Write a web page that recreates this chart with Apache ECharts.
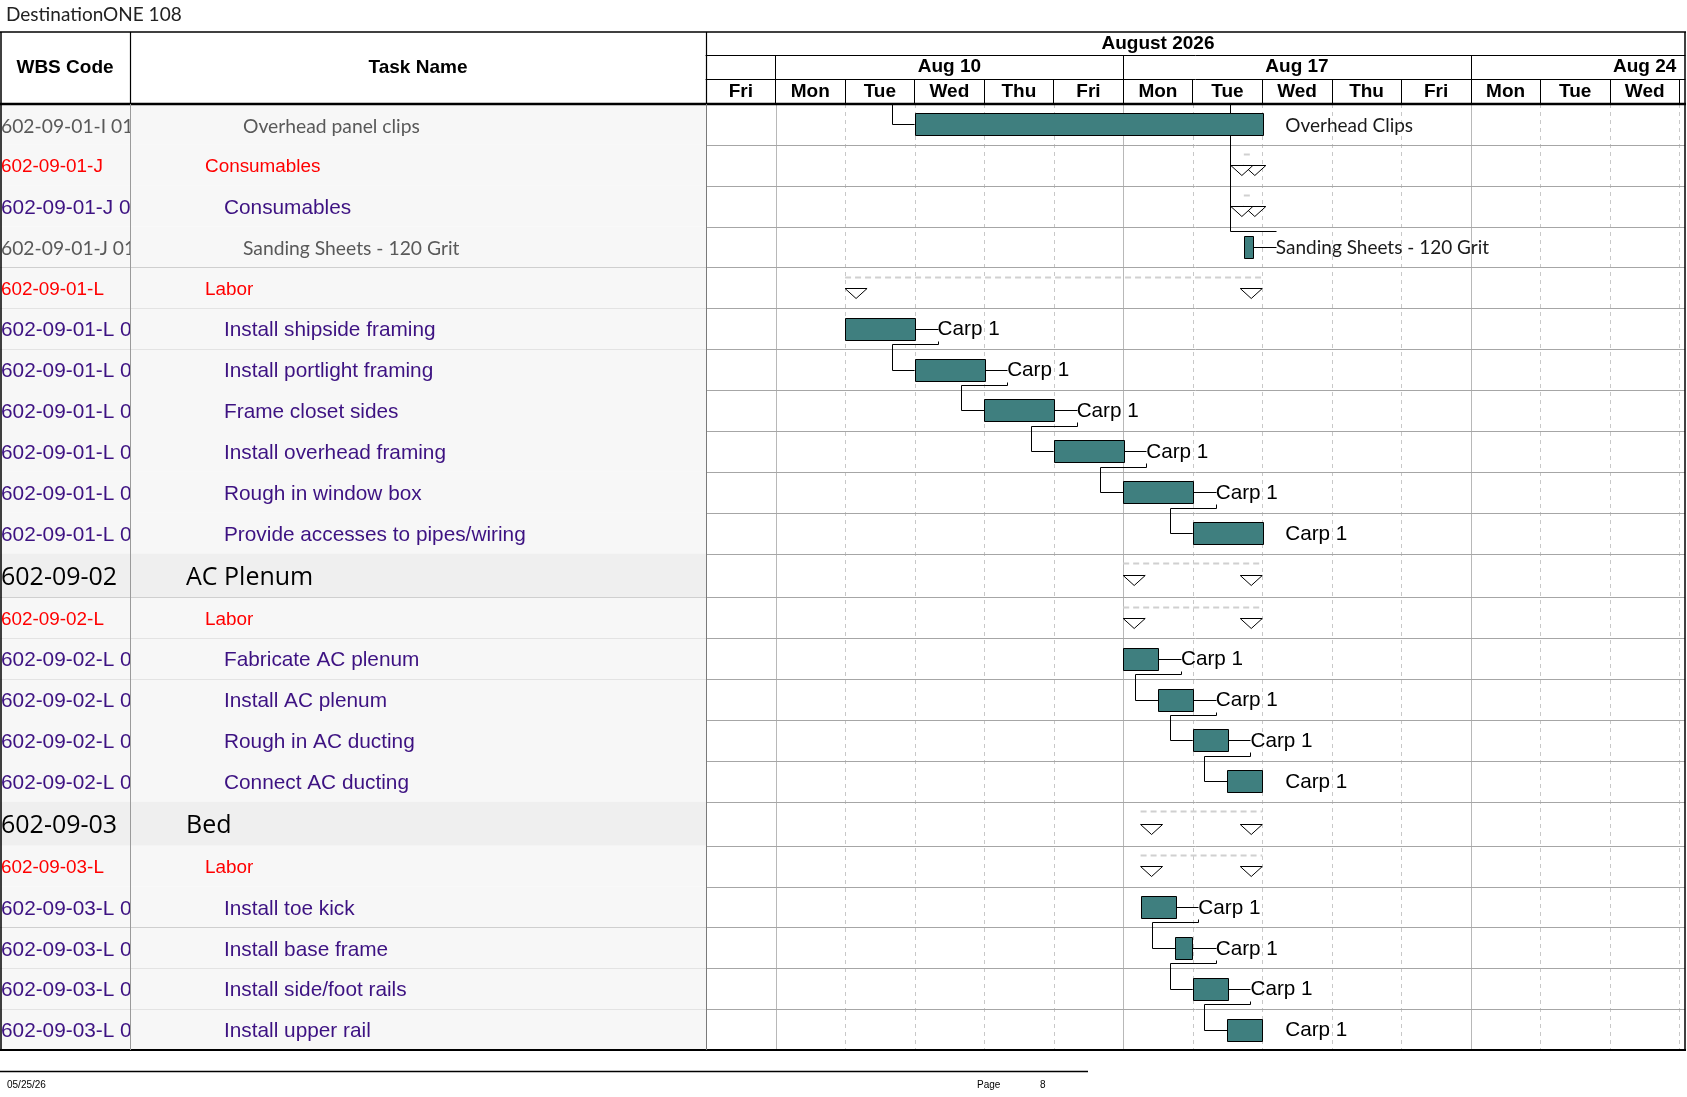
<!DOCTYPE html>
<html>
<head>
<meta charset="utf-8">
<title>DestinationONE 108</title>
<script src="https://cdn.jsdelivr.net/npm/echarts@6/dist/echarts.min.js"></script>
<style>
  html, body { margin: 0; padding: 0; background: #fff; }
  #main { width: 1687px; height: 1097px; }
</style>
</head>
<body>
<div id="main"></div>
<script>
// ---- timeline scale (working days, Fri Aug 7 = 0, weekends skipped) ----
var dayLabels = ['Fri', 'Mon', 'Tue', 'Wed', 'Thu', 'Fri', 'Mon', 'Tue', 'Wed', 'Thu', 'Fri', 'Mon', 'Tue', 'Wed'];
var weekLabels = ['Aug 10', 'Aug 17', 'Aug 24'];
var weekStarts = [1, 6, 11];
var monthLabel = 'August 2026';
var monthSpan = [-4, 17];   // Aug 3 .. Aug 31 in working days

// ---- rows ----
var wbsCodes = [
  '602-09-01-I 01-01', '602-09-01-J', '602-09-01-J 01', '602-09-01-J 01-01', '602-09-01-L',
  '602-09-01-L 01', '602-09-01-L 02', '602-09-01-L 03', '602-09-01-L 04', '602-09-01-L 05', '602-09-01-L 06',
  '602-09-02', '602-09-02-L', '602-09-02-L 01', '602-09-02-L 02', '602-09-02-L 03', '602-09-02-L 04',
  '602-09-03', '602-09-03-L', '602-09-03-L 01', '602-09-03-L 02', '602-09-03-L 03', '602-09-03-L 04'
];
var taskNames = [
  'Overhead panel clips', 'Consumables', 'Consumables', 'Sanding Sheets - 120 Grit', 'Labor',
  'Install shipside framing', 'Install portlight framing', 'Frame closet sides', 'Install overhead framing',
  'Rough in window box', 'Provide accesses to pipes/wiring',
  'AC Plenum', 'Labor', 'Fabricate AC plenum', 'Install AC plenum', 'Rough in AC ducting', 'Connect AC ducting',
  'Bed', 'Labor', 'Install toe kick', 'Install base frame', 'Install side/foot rails', 'Install upper rail'
];
var rowTypes = [
  'detail', 'summary', 'task', 'detail', 'summary',
  'task', 'task', 'task', 'task', 'task', 'task',
  'group', 'summary', 'task', 'task', 'task', 'task',
  'group', 'summary', 'task', 'task', 'task', 'task'
];
var markTypes = [
  'bar', 'span', 'span', 'bar', 'span',
  'bar', 'bar', 'bar', 'bar', 'bar', 'bar',
  'span', 'span', 'bar', 'bar', 'bar', 'bar',
  'span', 'span', 'bar', 'bar', 'bar', 'bar'
];
var startDay = [3, 7.735, 7.735, 7.735, 2, 2, 3, 4, 5, 6, 7, 6, 6, 6, 6.5, 7, 7.5, 6.25, 6.25, 6.25, 6.75, 7, 7.5];
var endDay   = [8, 7.865, 7.865, 7.865, 8, 3, 4, 5, 6, 7, 8, 8, 8, 6.5, 7, 7.5, 8, 8, 8, 6.75, 7, 7.5, 8];
var barLabels = [
  'Overhead Clips', '', '', 'Sanding Sheets - 120 Grit', '',
  'Carp 1', 'Carp 1', 'Carp 1', 'Carp 1', 'Carp 1', 'Carp 1',
  '', '', 'Carp 1', 'Carp 1', 'Carp 1', 'Carp 1',
  '', '', 'Carp 1', 'Carp 1', 'Carp 1', 'Carp 1'
];
// finish-to-start links [predecessor, successor]
var links = [[5, 6], [6, 7], [7, 8], [8, 9], [9, 10], [13, 14], [14, 15], [15, 16], [19, 20], [20, 21], [21, 22]];
// links coming from the previous page: [row, kind]
var offPageLinks = [[0, 'in'], [3, 'pass']];

// ---- layout ----
var TOP = 104, BOTTOM = 1050, COL1 = 130, COL2 = 706, RIGHT = 1685;
var DAY_W = 69.52;
var visibleDays = +((RIGHT - COL2) / DAY_W).toFixed(2);
var LABEL_GAP = 23;

var ROW_UNITS = { detail: 1, summary: 1, task: 1, group: 1.075 };
var TEXT = {
  detail:  { font: '19.3px Lato', color: '#595959', indent: 113 },
  summary: { font: '18.9px "Liberation Sans", Arial', color: '#ff0000', indent: 75 },
  task:    { font: '20.8px "Liberation Sans", Arial', color: '#3d1282', indent: 94 },
  group:   { font: '25px "Open Sans"', color: '#000000', indent: 56 }
};

var rowTop = [];
var totalUnits = 0;
rowTypes.forEach(function (t) { rowTop.push(totalUnits); totalUnits += ROW_UNITS[t]; });

var rowsData = wbsCodes.map(function (c, i) { return [i]; });
var dayTicks = dayLabels.map(function (d, i) { return i + 1; });
var dayCenters = dayLabels.map(function (d, i) { return i + 0.5; });
var weekCenters = weekStarts.map(function (w) { return w + 2.5; });
var monthCenter = (monthSpan[0] + monthSpan[1]) / 2;

function px(v) { return Math.round(v) + 0.5; }

function rowSpan(api, i) {
  var y0 = api.coord([0, rowTop[i]])[1];
  var y1 = api.coord([0, rowTop[i] + ROW_UNITS[rowTypes[i]]])[1];
  return [y0, y1];
}

function renderCell(column) {
  return function (params, api) {
    var i = api.value(0);
    var cs = params.coordSys;
    var r = rowSpan(api, i);
    var st = TEXT[rowTypes[i]];
    var text = column === 0 ? wbsCodes[i] : taskNames[i];
    var tx = column === 0 ? cs.x + 1 : cs.x + st.indent;
    return {
      type: 'group',
      children: [
        { type: 'rect', shape: { x: cs.x, y: r[0], width: cs.width, height: r[1] - r[0] },
          style: { fill: rowTypes[i] === 'group' ? '#efefef' : '#f7f7f7' } },
        { type: 'line', shape: { x1: cs.x, y1: px(r[1]), x2: cs.x + cs.width, y2: px(r[1]) },
          style: { stroke: '#a6a6a6', lineWidth: 1 } },
        { type: 'text', style: { text: text, x: tx, y: (r[0] + r[1]) / 2 + 2, font: st.font,
          fill: st.color, align: 'left', verticalAlign: 'middle' } }
      ]
    };
  };
}

function renderGridLine(params, api) {
  var d = api.value(0);
  var cs = params.coordSys;
  var x = px(api.coord([d, 0])[0]);
  var solid = weekStarts.indexOf(d) >= 0;
  return {
    type: 'line', shape: { x1: x, y1: cs.y, x2: x, y2: cs.y + cs.height },
    style: { stroke: solid ? '#b8b8b8' : '#c8c8c8', lineWidth: 1, lineDash: solid ? null : [4, 4] }
  };
}

function renderRowLine(params, api) {
  var i = api.value(0);
  var cs = params.coordSys;
  var r = rowSpan(api, i);
  return {
    type: 'line', shape: { x1: cs.x, y1: px(r[1]), x2: cs.x + cs.width, y2: px(r[1]) },
    style: { stroke: '#a6a6a6', lineWidth: 1 }
  };
}

function renderMark(params, api) {
  var i = api.value(0);
  var r = rowSpan(api, i);
  var cy = (r[0] + r[1]) / 2;
  var x0 = api.coord([startDay[i], 0])[0];
  var x1 = api.coord([endDay[i], 0])[0];
  var children = [];
  if (markTypes[i] === 'bar') {
    children.push({ type: 'rect',
      shape: { x: px(x0), y: px(cy - 11), width: Math.max(1, Math.round(x1 - x0)), height: 22 },
      style: { fill: '#3f7f7f', stroke: '#000', lineWidth: 1 } });
    if (barLabels[i]) {
      var isCarp = rowTypes[i] === 'task';
      children.push({ type: 'text', style: { text: barLabels[i], x: x1 + LABEL_GAP, y: cy + 1,
        font: isCarp ? '20.7px "Liberation Sans", Arial' : '19px Lato',
        fill: isCarp ? '#000' : '#1a1a1a', align: 'left', verticalAlign: 'middle' } });
    }
  } else {
    var dy = px(r[0] + 9.5);
    children.push({ type: 'line', shape: { x1: x0, y1: dy, x2: x1, y2: dy },
      style: { stroke: '#d0d0d0', lineWidth: 2, lineDash: [6, 4] } });
    var ty = Math.round(cy) + 0.5;
    children.push({ type: 'polygon', shape: { points: [[x0, ty], [x0 + 22, ty], [x0 + 11, ty + 10]] },
      style: { fill: '#fff', stroke: '#000', lineWidth: 1 } });
    children.push({ type: 'polygon', shape: { points: [[x1 - 22, ty], [x1, ty], [x1 - 11, ty + 10]] },
      style: { fill: '#fff', stroke: '#000', lineWidth: 1 } });
  }
  return { type: 'group', children: children };
}

function renderLink(params, api) {
  var l = links[api.value(0)];
  var p = l[0], s = l[1];
  var pr = rowSpan(api, p), sr = rowSpan(api, s);
  var pcy = px((pr[0] + pr[1]) / 2);
  var scy = px((sr[0] + sr[1]) / 2);
  var pEnd = api.coord([endDay[p], 0])[0];
  var sStart = api.coord([startDay[s], 0])[0];
  var lx = px(pEnd + LABEL_GAP);
  var hy = px(pr[1] - 5);
  var vx = px(sStart - 23);
  return {
    type: 'group',
    children: [
      { type: 'line', shape: { x1: pEnd, y1: pcy, x2: lx, y2: pcy }, style: { stroke: '#000', lineWidth: 1 } },
      { type: 'polyline', shape: { points: [[lx, pcy + 12], [lx, hy], [vx, hy], [vx, scy], [sStart, scy]] },
        style: { stroke: '#000', fill: 'none', lineWidth: 1 } }
    ]
  };
}

function renderOffPage(params, api) {
  var l = offPageLinks[api.value(0)];
  var i = l[0];
  var cs = params.coordSys;
  var r = rowSpan(api, i);
  var cy = px((r[0] + r[1]) / 2);
  var x0 = api.coord([startDay[i], 0])[0];
  var x1 = api.coord([endDay[i], 0])[0];
  if (l[1] === 'in') {
    var vx = px(x0 - 23);
    return { type: 'polyline', shape: { points: [[vx, cs.y], [vx, cy], [x0, cy]] },
      style: { stroke: '#000', fill: 'none', lineWidth: 1 } };
  }
  var vx2 = px(x0 - 13.5);
  var hy = px(r[0] + 4);
  var lx = px(x1 + LABEL_GAP);
  return {
    type: 'group',
    children: [
      { type: 'polyline', shape: { points: [[vx2, cs.y], [vx2, hy], [lx, hy]] },
        style: { stroke: '#000', fill: 'none', lineWidth: 1 } },
      { type: 'line', shape: { x1: x1, y1: cy, x2: lx, y2: cy }, style: { stroke: '#000', lineWidth: 1 } }
    ]
  };
}

var headFont = { color: '#000', fontWeight: 'bold', fontSize: 19, fontFamily: '"Liberation Sans", Arial' };

function hline(x1, x2, y, w, c) {
  return { type: 'line', z: 100, shape: { x1: x1, y1: y, x2: x2, y2: y }, style: { stroke: c || '#000', lineWidth: w } };
}
function vline(x, y1, y2, w, c) {
  return { type: 'line', z: 100, shape: { x1: x, y1: y1, x2: x, y2: y2 }, style: { stroke: c || '#000', lineWidth: w } };
}

var myChart = echarts.init(document.getElementById('main'));
var option = {
  animation: false,
  backgroundColor: '#fff',
  grid: [
    { left: 0, top: TOP, width: COL1, height: BOTTOM - TOP },
    { left: COL1, top: TOP, width: COL2 - COL1, height: BOTTOM - TOP },
    { left: COL2, top: TOP, width: RIGHT - COL2, height: BOTTOM - TOP }
  ],
  xAxis: [
    { gridIndex: 0, type: 'value', min: 0, max: 1, show: false },
    { gridIndex: 1, type: 'value', min: 0, max: 1, show: false },
    {
      gridIndex: 2, type: 'value', position: 'top', min: 0, max: visibleDays, interval: 1,
      axisLine: { show: false },
      axisTick: { show: true, customValues: dayTicks, length: 25, lineStyle: { color: '#000', width: 1 } },
      axisLabel: Object.assign({ customValues: dayCenters, margin: 12.5, verticalAlign: 'middle',
        formatter: function (v) { return dayLabels[Math.floor(v)]; } }, headFont),
      splitLine: { show: false }
    },
    {
      gridIndex: 2, type: 'value', position: 'top', offset: 25, min: 0, max: visibleDays, interval: 1,
      axisLine: { show: true, lineStyle: { color: '#000', width: 1 } },
      axisTick: { show: true, customValues: weekStarts, length: 24, lineStyle: { color: '#000', width: 1 } },
      axisLabel: Object.assign({ customValues: weekCenters, margin: 12, verticalAlign: 'middle',
        formatter: function (v) { return weekLabels[weekCenters.indexOf(v)]; } }, headFont),
      splitLine: { show: false }
    },
    {
      gridIndex: 2, type: 'value', position: 'top', offset: 49, min: 0, max: visibleDays, interval: 1,
      axisLine: { show: true, lineStyle: { color: '#000', width: 1 } },
      axisTick: { show: false },
      axisLabel: Object.assign({ customValues: [monthCenter], margin: 11.5, verticalAlign: 'middle',
        formatter: function () { return monthLabel; } }, headFont),
      splitLine: { show: false }
    }
  ],
  yAxis: [0, 1, 2].map(function (g) {
    return { gridIndex: g, type: 'value', min: 0, max: totalUnits, inverse: true, show: false };
  }),
  series: [
    { type: 'custom', name: 'wbs', xAxisIndex: 0, yAxisIndex: 0, clip: true, silent: true,
      data: rowsData, renderItem: renderCell(0) },
    { type: 'custom', name: 'task', xAxisIndex: 1, yAxisIndex: 1, clip: true, silent: true,
      data: rowsData, renderItem: renderCell(1) },
    { type: 'custom', name: 'days', xAxisIndex: 2, yAxisIndex: 2, silent: true, z: 1,
      data: dayTicks.map(function (d) { return [d]; }), renderItem: renderGridLine },
    { type: 'custom', name: 'rows', xAxisIndex: 2, yAxisIndex: 2, silent: true, z: 1,
      data: rowsData, renderItem: renderRowLine },
    { type: 'custom', name: 'links', xAxisIndex: 2, yAxisIndex: 2, silent: true, z: 2,
      data: links.map(function (l, k) { return [k]; }), renderItem: renderLink },
    { type: 'custom', name: 'offpage', xAxisIndex: 2, yAxisIndex: 2, silent: true, z: 2,
      data: offPageLinks.map(function (l, k) { return [k]; }), renderItem: renderOffPage },
    { type: 'custom', name: 'marks', xAxisIndex: 2, yAxisIndex: 2, silent: true, z: 3,
      data: rowsData, renderItem: renderMark }
  ],
  graphic: {
    elements: [
      { type: 'text', x: 6, y: 15, style: { text: 'DestinationONE 108', font: '19px Lato', fill: '#222',
        align: 'left', verticalAlign: 'middle' } },
      { type: 'text', x: COL1 / 2, y: 68, style: { text: 'WBS Code', font: 'bold 19px "Liberation Sans", Arial',
        fill: '#000', align: 'center', verticalAlign: 'middle' } },
      { type: 'text', x: (COL1 + COL2) / 2, y: 68, style: { text: 'Task Name', font: 'bold 19px "Liberation Sans", Arial',
        fill: '#000', align: 'center', verticalAlign: 'middle' } },
      hline(0, RIGHT + 1, 32, 1.5),
      hline(0, RIGHT + 1, TOP, 2.5),
      hline(0, RIGHT + 1, BOTTOM, 2),
      vline(1, 32, BOTTOM, 1.5),
      vline(RIGHT, 32, BOTTOM, 1.5),
      vline(COL1 + 0.5, 32, TOP, 1.2),
      vline(COL2 + 0.5, 32, TOP, 1.2),
      vline(COL1 + 0.5, TOP, BOTTOM, 1, '#9a9a9a'),
      vline(COL2 + 0.5, TOP, BOTTOM, 1, '#7a7a7a'),
      // footer
      hline(0, 1088, 1071.5, 1.5),
      { type: 'text', x: 7, y: 1085, style: { text: '05/25/26', font: '10px "Liberation Sans", Arial', fill: '#000',
        align: 'left', verticalAlign: 'middle' } },
      { type: 'text', x: 977, y: 1085, style: { text: 'Page', font: '10px "Liberation Sans", Arial', fill: '#000',
        align: 'left', verticalAlign: 'middle' } },
      { type: 'text', x: 1040, y: 1085, style: { text: '8', font: '10px "Liberation Sans", Arial', fill: '#000',
        align: 'left', verticalAlign: 'middle' } }
    ]
  }
};

myChart.setOption(option);
window.onresize = function () {
  myChart.resize();
};
</script>
</body>
</html>
